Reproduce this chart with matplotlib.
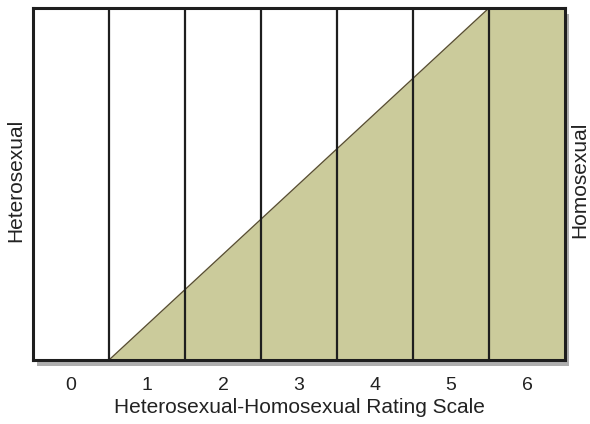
"""Kinsey heterosexual-homosexual rating scale diagram."""

import matplotlib.pyplot as plt
import matplotlib.patheffects as pe
from matplotlib.patches import Rectangle

plt.rcParams["font.family"] = ["Liberation Sans", "DejaVu Sans"]

ratings = [0, 1, 2, 3, 4, 5, 6]
# share of homosexual experience along the scale (column edges 0..7)
boundary_x = [0, 1, 6, 7]
boundary_y = [0, 0, 1, 1]

fill_color = "#CBCB9B"
line_color = "#1E1E1E"
text_color = "#222222"

fig = plt.figure(figsize=(5.9, 4.24), dpi=100)
ax = fig.add_axes([0.0559, 0.1509, 0.9017, 0.8302])
ax.set_facecolor("none")
ax.set_xlim(0, len(ratings))
ax.set_ylim(0, 1)

# white box with drop shadow
ax.add_patch(Rectangle((0, 0), len(ratings), 1, facecolor="white", edgecolor="none",
                       zorder=0, clip_on=False,
                       path_effects=[pe.SimplePatchShadow(offset=(3, -4), shadow_rgbFace="#9a9a9a", alpha=0.8),
                                     pe.Normal()]))

ax.fill_between(boundary_x, 0, boundary_y, color=fill_color, linewidth=0, zorder=1)
ax.plot(boundary_x[1:3], boundary_y[1:3], color="#5a5030", lw=1, zorder=2)

for r in ratings[1:]:
    ax.axvline(r, color=line_color, lw=1.6, zorder=3)

for s in ax.spines.values():
    s.set_linewidth(2.2)
    s.set_color(line_color)
    s.set_zorder(4)

ax.set_xticks([r + 0.5 for r in ratings])
ax.set_xticklabels([str(r) for r in ratings], fontsize=14, color=text_color)
ax.tick_params(axis="x", length=0, pad=12)
ax.set_yticks([])
ax.set_xlabel("Heterosexual-Homosexual Rating Scale", fontsize=15, color=text_color, labelpad=3)

fig.text(0.026, 0.575, "Heterosexual", rotation=90, ha="center", va="center",
         fontsize=15, color=text_color)
fig.text(0.982, 0.575, "Homosexual", rotation=90, ha="center", va="center",
         fontsize=15, color=text_color)

fig.savefig("out.png", dpi=100, facecolor="white")
